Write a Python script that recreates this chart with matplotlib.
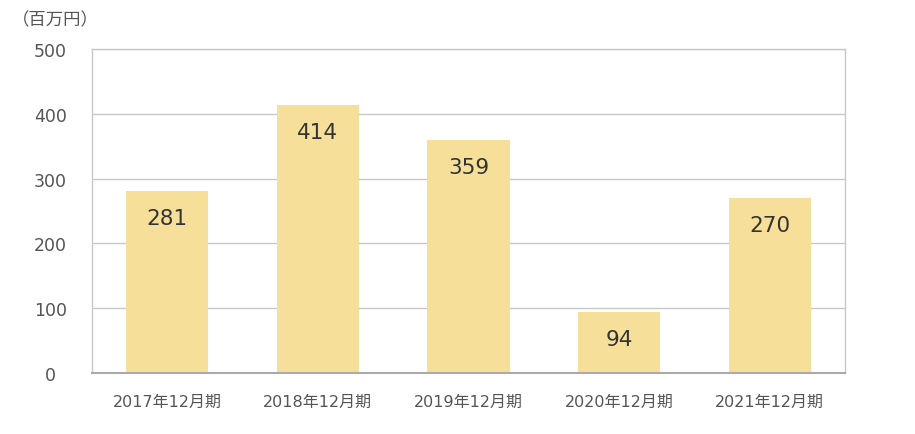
import matplotlib
matplotlib.use('Agg')
import matplotlib.pyplot as plt

categories = ['2017年12月期', '2018年12月期', '2019年12月期', '2020年12月期', '2021年12月期']
values = [281, 414, 359, 94, 270]
yticks = [0, 100, 200, 300, 400, 500]

plt.rcParams['font.family'] = ['DejaVu Sans', 'Noto Sans CJK JP']

bar_color = '#F6E099'
text_color = '#555555'
grid_color = '#C8C8C8'


def main() -> None:
    fig = plt.figure(figsize=(9.15, 4.35), dpi=100)
    ax = fig.add_axes([0.1005, 0.1402, 0.823, 0.745])

    xs = list(range(len(categories)))
    ax.bar(xs, values, width=0.545, color=bar_color, zorder=2)
    for x, v in zip(xs, values):
        ax.text(x, v - 27 * 500 / 324, str(v), ha='center', va='center',
                fontsize=15.5, color='#333333', zorder=3)

    ax.set_xlim(-0.5, len(categories) - 0.5)
    ax.set_ylim(0, 500)
    ax.set_yticks(yticks)
    ax.set_yticklabels([str(t) for t in yticks], fontsize=12.5, color=text_color)
    ax.set_xticks(xs)
    ax.set_xticklabels(categories, fontsize=11.5, color=text_color,
                       family=['DejaVu Sans', 'Noto Sans CJK JP'])
    ax.tick_params(axis='both', length=0)
    ax.tick_params(axis='x', pad=15)
    ax.tick_params(axis='y', pad=30)
    for lbl in ax.get_yticklabels():
        lbl.set_horizontalalignment('center')

    ax.grid(axis='y', color=grid_color, linewidth=1, zorder=1)
    for side in ['left', 'right', 'top']:
        ax.spines[side].set_color(grid_color)
        ax.spines[side].set_linewidth(1)
    ax.spines['bottom'].set_color('#AAAAAA')
    ax.spines['bottom'].set_linewidth(1.5)

    fig.text(55 / 915, 1 - 20 / 435, '（百万円）', fontsize=12.5, color=text_color,
             ha='center', va='center', family=['Noto Sans CJK JP', 'DejaVu Sans'])

    fig.savefig('out.png', dpi=100)


if __name__ == '__main__':
    main()
